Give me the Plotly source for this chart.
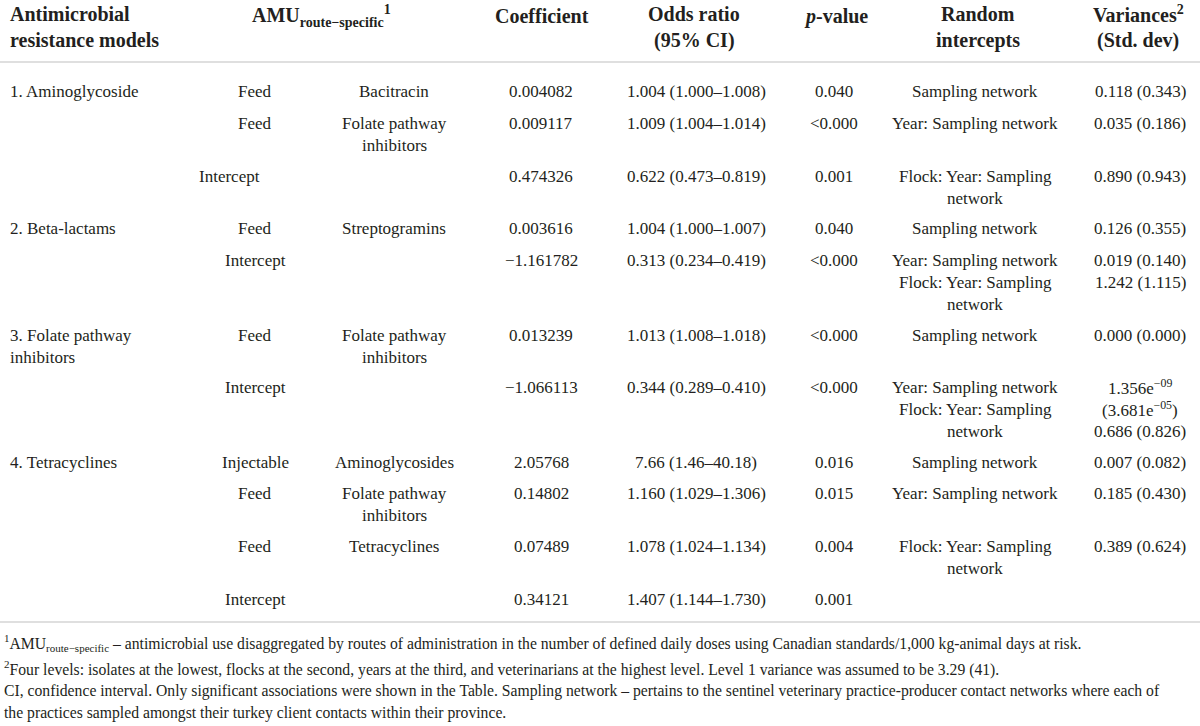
import plotly.graph_objects as go

# table contents, one entry per body row
models = ["1. Aminoglycoside", "", "", "2. Beta-lactams", "",
          "3. Folate pathway|inhibitors", "", "4. Tetracyclines", "", "", ""]
routes = ["Feed", "Feed", "Intercept", "Feed", "Intercept", "Feed", "Intercept",
          "Injectable", "Feed", "Feed", "Intercept"]
drug_classes = ["Bacitracin", "Folate pathway|inhibitors", "", "Streptogramins", "",
                "Folate pathway|inhibitors", "", "Aminoglycosides",
                "Folate pathway|inhibitors", "Tetracyclines", ""]
coefficients = ["0.004082", "0.009117", "0.474326", "0.003616", "−1.161782",
                "0.013239", "−1.066113", "2.05768", "0.14802", "0.07489", "0.34121"]
odds_ratios = ["1.004 (1.000–1.008)", "1.009 (1.004–1.014)", "0.622 (0.473–0.819)",
               "1.004 (1.000–1.007)", "0.313 (0.234–0.419)", "1.013 (1.008–1.018)",
               "0.344 (0.289–0.410)", "7.66 (1.46–40.18)", "1.160 (1.029–1.306)",
               "1.078 (1.024–1.134)", "1.407 (1.144–1.730)"]
p_values = ["0.040", "<0.000", "0.001", "0.040", "<0.000", "<0.000", "<0.000",
            "0.016", "0.015", "0.004", "0.001"]
random_intercepts = ["Sampling network", "Year: Sampling network",
                     "Flock: Year: Sampling|network", "Sampling network",
                     "Year: Sampling network|Flock: Year: Sampling|network",
                     "Sampling network",
                     "Year: Sampling network|Flock: Year: Sampling|network",
                     "Sampling network", "Year: Sampling network",
                     "Flock: Year: Sampling|network", ""]
variances = ["0.118 (0.343)", "0.035 (0.186)", "0.890 (0.943)", "0.126 (0.355)",
             "0.019 (0.140)|1.242 (1.115)", "0.000 (0.000)",
             "1.356e<sup>−09</sup>|(3.681e<sup>−05</sup>)|0.686 (0.826)",
             "0.007 (0.082)", "0.185 (0.430)", "0.389 (0.624)", ""]

headers = [
    ("Antimicrobial|resistance models", "left"),
    ("AMU<sub>route−specific</sub><sup>1</sup>", "center"),
    ("Coefficient", "center"),
    ("Odds ratio|(95% CI)", "center"),
    ("<i>p</i>-value", "center"),
    ("Random|intercepts", "center"),
    ("Variances<sup>2</sup>|(Std. dev)", "center"),
]

footnotes = [
    "<sup>1</sup>AMU<sub>route−specific</sub> – antimicrobial use disaggregated by routes of "
    "administration in the number of defined daily doses using Canadian standards/1,000 "
    "kg-animal days at risk.",
    "<sup>2</sup>Four levels: isolates at the lowest, flocks at the second, years at the third, "
    "and veterinarians at the highest level. Level 1 variance was assumed to be 3.29 (41).",
    "CI, confidence interval. Only significant associations were shown in the Table. Sampling "
    "network – pertains to the sentinel veterinary practice-producer contact networks where each of",
    "the practices sampled amongst their turkey client contacts within their province.",
]

# layout (axis units are pixels of the 1200x726 page)
FONT = "Liberation Serif"
INK = "#231f20"
header_x = [8, 321, 542, 694, 836, 978, 1138]
header_y = [14, 16, 16, 14, 16, 14, 14]
col_x = [8, 255, 394, 541, 696, 834, 975, 1140]
row_y = [91, 123, 176, 228, 260, 335, 387, 462, 493, 546, 599]
route_shift = {2: -26}
LINE = 22
footnote_y = [643, 668, 691, 713]

fig = go.Figure()
fig.add_trace(go.Scatter(x=[], y=[]))


def add_text(x, y, text, align, size, bold=False):
    text = text.replace("<0", "&lt;0")
    if bold:
        text = "<b>" + text + "</b>"
    fig.add_annotation(
        x=x, y=y, xref="x", yref="y", text=text, showarrow=False,
        xanchor=align, yanchor="middle", align=align,
        font=dict(family=FONT, size=size, color=INK),
    )


for (text, align), x, y in zip(headers, header_x, header_y):
    for k, part in enumerate(text.split("|")):
        add_text(x, y + k * 26, part, align, 20, bold=True)

columns = [models, routes, drug_classes, coefficients, odds_ratios,
           p_values, random_intercepts, variances]
for c, values in enumerate(columns):
    align = "left" if c == 0 else "center"
    for r, cell in enumerate(values):
        if not cell:
            continue
        x = col_x[c] + (route_shift.get(r, 0) if c == 1 else 0)
        for k, part in enumerate(cell.split("|")):
            add_text(x, row_y[r] + k * LINE, part, align, 17)

for text, y in zip(footnotes, footnote_y):
    add_text(2, y, text, "left", 15.7)

for y in [62, 622]:
    fig.add_shape(type="line", xref="x", yref="y", x0=0, x1=1200, y0=y, y1=y,
                  line=dict(color="#d4d4d4", width=1.5))

fig.update_layout(
    width=1200, height=726,
    margin=dict(l=0, r=0, t=0, b=0),
    paper_bgcolor="white", plot_bgcolor="white",
    showlegend=False,
    xaxis=dict(range=[0, 1200], visible=False, fixedrange=True),
    yaxis=dict(range=[726, 0], visible=False, fixedrange=True),
)

fig.write_html("out.html", config={"displayModeBar": False},
               post_script="document.body.style.margin = '0';")
